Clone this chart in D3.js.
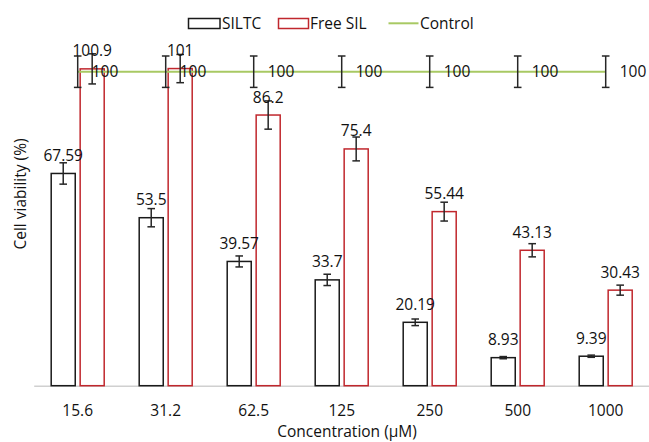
<!DOCTYPE html>
<html>
<head>
<meta charset="utf-8">
<script src="https://cdn.jsdelivr.net/npm/d3@7"></script>
<style>
  body { margin: 0; background: #fff; }
  text { font-family: "Open Sans", sans-serif; fill: #111; }
</style>
</head>
<body>
<div id="chart"></div>
<script>
// data
const categories = ["15.6", "31.2", "62.5", "125", "250", "500", "1000"];
const siltc = [67.59, 53.5, 39.57, 33.7, 20.19, 8.93, 9.39];
const siltcErr = [3.4, 2.9, 1.75, 1.8, 1.05, 0.35, 0.35];
const freeSil = [100.9, 101, 86.2, 75.4, 55.44, 43.13, 30.43];
const freeSilErr = [4.8, 4.5, 4.5, 3.8, 3.0, 2.1, 1.6];
const control = [100, 100, 100, 100, 100, 100, 100];
const controlErr = [5, 5, 5, 5, 5, 5, 5];
const seriesNames = ["SILTC", "Free SIL", "Control"];

const W = 649, H = 442;
const colors = { "SILTC": "#1a1a1a", "Free SIL": "#c0272d", "Control": "#a8c963" };

const svg = d3.select("#chart")
    .append("svg")
    .attr("width", W)
    .attr("height", H);

// scales
const x = d3.scaleBand()
    .domain(categories)
    .range([33.7, 649.7])
    .padding(0);
const x1 = d3.scaleBand()
    .domain(["SILTC", "Free SIL"])
    .range([-26.5, 26.5])
    .paddingInner(0.17);
const y = d3.scaleLinear()
    .domain([0, 120])
    .range([385.7, 8.9]);

const center = d => x(d) + x.bandwidth() / 2;

// x axis (baseline + labels)
const xAxis = svg.append("g")
    .attr("transform", `translate(0,${y(0)})`)
    .call(d3.axisBottom(x).tickSize(0).tickPadding(19));
xAxis.select(".domain").attr("stroke", "#d0d0d0").attr("stroke-width", 1.5);
xAxis.selectAll(".tick text")
    .attr("font-size", "15.5px")
    .attr("font-family", "Open Sans, sans-serif")
    .attr("fill", "#111");

// bars
const rows = categories.map((c, i) => ({ c, i }));
const groups = [
    { key: "SILTC", vals: siltc, errs: siltcErr },
    { key: "Free SIL", vals: freeSil, errs: freeSilErr }
];

groups.forEach(g => {
    const bw = x1.bandwidth();
    svg.append("g").selectAll("rect")
        .data(rows)
        .enter().append("rect")
        .attr("x", d => center(d.c) + x1(g.key))
        .attr("width", bw)
        .attr("y", d => y(g.vals[d.i]))
        .attr("height", d => y(0) - y(g.vals[d.i]))
        .attr("fill", "#fff")
        .attr("stroke", colors[g.key])
        .attr("stroke-width", 1.5);
});

// control line
const line = d3.line()
    .x(d => center(d.c))
    .y(d => y(control[d.i]));
svg.append("path")
    .datum(rows)
    .attr("d", line)
    .attr("fill", "none")
    .attr("stroke", colors["Control"])
    .attr("stroke-width", 2);

// error bars
function errorBars(cx, vals, errs) {
    const g = svg.append("g")
        .attr("stroke", "#262626")
        .attr("stroke-width", 1.5);
    rows.forEach(d => {
        const px = cx(d);
        const top = y(vals[d.i] + errs[d.i]);
        const bot = y(vals[d.i] - errs[d.i]);
        g.append("line").attr("x1", px).attr("x2", px).attr("y1", top).attr("y2", bot);
        g.append("line").attr("x1", px - 3.8).attr("x2", px + 3.8).attr("y1", top).attr("y2", top);
        g.append("line").attr("x1", px - 3.8).attr("x2", px + 3.8).attr("y1", bot).attr("y2", bot);
    });
}
errorBars(d => center(d.c) + x1("SILTC") + x1.bandwidth() / 2, siltc, siltcErr);
errorBars(d => center(d.c) + x1("Free SIL") + x1.bandwidth() / 2, freeSil, freeSilErr);
errorBars(d => center(d.c), control, controlErr);

// data labels
groups.forEach(g => {
    svg.append("g").selectAll("text")
        .data(rows)
        .enter().append("text")
        .attr("x", d => center(d.c) + x1(g.key) + x1.bandwidth() / 2)
        .attr("y", d => y(g.vals[d.i]) - 12.5)
        .attr("text-anchor", "middle")
        .attr("font-size", "15.5px")
        .text(d => g.vals[d.i]);
});
svg.append("g").selectAll("text")
    .data(rows)
    .enter().append("text")
    .attr("x", d => center(d.c) + 14)
    .attr("y", d => y(control[d.i]))
    .attr("dy", "0.36em")
    .attr("font-size", "15.5px")
    .text(d => control[d.i]);

// axis titles
svg.append("text")
    .attr("x", 347)
    .attr("y", 437)
    .attr("text-anchor", "middle")
    .attr("font-size", "15.5px")
    .text("Concentration (µM)");
svg.append("text")
    .attr("transform", "translate(25.5,194) rotate(-90)")
    .attr("text-anchor", "middle")
    .attr("font-size", "15.5px")
    .text("Cell viability (%)");

// legend
const legend = svg.append("g");
const legendItems = [
    { key: "SILTC", x: 188.5, w: 31.5, tx: 222 },
    { key: "Free SIL", x: 278.5, w: 30, tx: 310 },
    { key: "Control", x: 388.5, w: 30, tx: 420 }
];
legendItems.forEach(it => {
    if (it.key === "Control") {
        legend.append("line")
            .attr("x1", it.x).attr("x2", it.x + it.w)
            .attr("y1", 23.3).attr("y2", 23.3)
            .attr("stroke", colors[it.key])
            .attr("stroke-width", 2);
    } else {
        legend.append("rect")
            .attr("x", it.x).attr("y", 18.5)
            .attr("width", it.w).attr("height", 10)
            .attr("fill", "#fff")
            .attr("stroke", colors[it.key])
            .attr("stroke-width", 1.5);
    }
    legend.append("text")
        .attr("x", it.tx)
        .attr("y", 29)
        .attr("font-size", "15.5px")
        .text(it.key);
});
</script>
</body>
</html>
